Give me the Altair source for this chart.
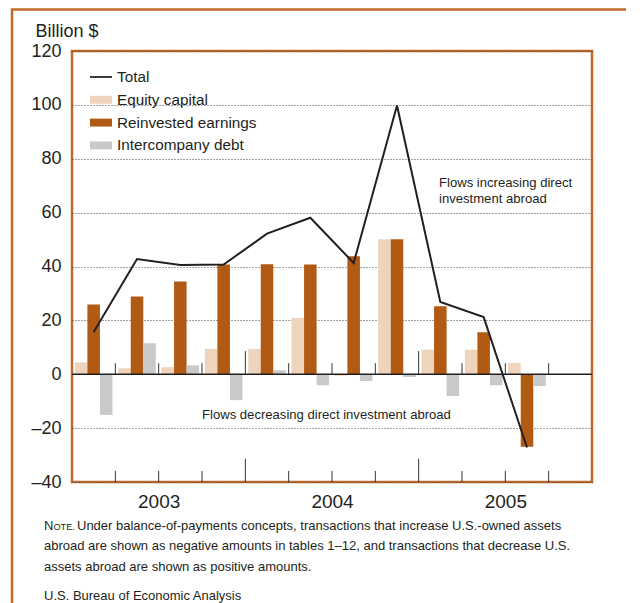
import altair as alt
import pandas as pd

# ---------------- data ----------------
quarters = ["2003Q1", "2003Q2", "2003Q3", "2003Q4",
            "2004Q1", "2004Q2", "2004Q3", "2004Q4",
            "2005Q1", "2005Q2", "2005Q3", "2005Q4"]
data_quarters = quarters[:11]
equity_capital = [4.4, 2.2, 2.6, 9.4, 9.4, 20.9, -0.6, 50.1, 9.1, 9.1, 4.2]
reinvested_earnings = [25.9, 28.9, 34.4, 40.7, 40.8, 40.7, 43.8, 50.1, 25.2, 15.6, -26.9]
intercompany_debt = [-15.1, 11.5, 3.3, -9.6, 1.5, -4.1, -2.5, -1.0, -8.1, -4.1, -4.4]
total = [15.7, 42.8, 40.6, 40.7, 52.2, 58.1, 41.3, 99.8, 26.8, 21.2, -27.2]

series_names = ["Total", "Equity capital", "Reinvested earnings", "Intercompany debt"]
bar_series = series_names[1:]
series_colors = ["#231f20", "#eed3bd", "#b15a13", "#c8c9cb"]
y_ticks = [-40, -20, 0, 20, 40, 60, 80, 100, 120]

note_head_cap = "N"
note_head_small = "OTE."
note_line1 = "Under balance-of-payments concepts, transactions that increase U.S.-owned assets"
note_rest = ("abroad are shown as negative amounts in tables 1\u201312, and transactions that decrease U.S.\n"
             "assets abroad are shown as positive amounts.")
source_text = "U.S. Bureau of Economic Analysis"
flows_up_text = "Flows increasing direct\ninvestment abroad"
flows_down_text = "Flows decreasing direct investment abroad"

# ---------------- tables ----------------
rows = []
for i, q in enumerate(data_quarters):
    rows.append({"quarter": q, "series": "Equity capital", "value": equity_capital[i]})
    rows.append({"quarter": q, "series": "Reinvested earnings", "value": reinvested_earnings[i]})
    rows.append({"quarter": q, "series": "Intercompany debt", "value": intercompany_debt[i]})
bars_df = pd.DataFrame(rows)
line_df = pd.DataFrame({"quarter": data_quarters, "series": "Total", "value": total})
bounds_df = pd.DataFrame({"quarter": quarters[1:],
                          "year_start": [q.endswith("Q1") for q in quarters[1:]]})
minor_df = bounds_df[~bounds_df["year_start"]]
major_df = bounds_df[bounds_df["year_start"]]
one = pd.DataFrame({"k": [0]})

FONT = "Liberation Sans, Arial, Helvetica, sans-serif"
ORANGE = "#c0692a"
INK = "#231f20"

W, H = 520, 431

x_scale = alt.Scale(domain=quarters, paddingInner=0, paddingOuter=0)
y_scale = alt.Scale(domain=[-40, 120], nice=False)
color_scale = alt.Scale(domain=series_names, range=series_colors)

rect_path = "M-1,-0.36L1,-0.36L1,0.36L-1,0.36Z"
line_path = "M-1,-0.08L1,-0.08L1,0.08L-1,0.08Z"
legend = alt.Legend(
    title=None, orient="none", legendX=18, legendY=15, padding=0,
    symbolSize=484,
    symbolType=alt.expr(f"datum.value === 'Total' ? '{line_path}' : '{rect_path}'"),
    symbolStrokeWidth=0,
    labelFont=FONT, labelFontSize=15.3, labelColor=INK, labelOffset=5,
    rowPadding=2.8, labelLimit=300,
)

x_axis = alt.Axis(title=None, bandPosition=0, ticks=False, domain=False, grid=False,
                  labelAngle=0, labelFont=FONT, labelFontSize=19, labelColor=INK,
                  labelBaseline="middle", labelPadding=19,
                  labelExpr="indexof(datum.value, 'Q3') >= 0 ? slice(datum.value, 0, 4) : ''")
y_axis = alt.Axis(values=y_ticks, title="Billion $", titleAngle=0, titleX=-37, titleY=-15,
                  titleAlign="left", titleBaseline="alphabetic", titleFont=FONT,
                  titleFontSize=18, titleFontWeight="normal", titleColor=INK,
                  ticks=False, domain=False, labelFont=FONT, labelFontSize=18,
                  labelColor=INK, labelPadding=11, labelBaseline="middle",
                  labelExpr="datum.value < 0 ? '\u2013' + abs(datum.value) : datum.label",
                  grid=True, gridColor="#444444", gridDash=[1, 2], gridWidth=1)

bars = alt.Chart(bars_df).mark_bar(strokeWidth=0).encode(
    x=alt.X("quarter:O", scale=x_scale, axis=x_axis),
    xOffset=alt.XOffset("series:N", sort=bar_series,
                        scale=alt.Scale(domain=bar_series, paddingInner=0, paddingOuter=0.23)),
    y=alt.Y("value:Q", scale=y_scale, axis=y_axis),
    color=alt.Color("series:N", scale=color_scale, legend=legend),
)

line = alt.Chart(line_df).mark_line(strokeWidth=2, color=INK).encode(
    x=alt.X("quarter:O", scale=x_scale),
    y=alt.Y("value:Q", scale=y_scale),
    color=alt.Color("series:N", scale=color_scale, legend=legend),
)

def ticks(df, base, length):
    return alt.Chart(df).mark_rule(color="#333333", strokeWidth=1).encode(
        x=alt.X("quarter:O", scale=x_scale, bandPosition=0),
        y=alt.Y(datum=base, scale=y_scale),
        y2=alt.Y2(datum=base + length),
    )

tick_layers = [ticks(minor_df, 0, 4.1), ticks(major_df, 0, 8.6),
               ticks(minor_df, -40, 4.1), ticks(major_df, -40, 8.6)]

zero = alt.Chart(one).mark_rule(color=INK, strokeWidth=1.5).encode(
    y=alt.Y(datum=0, scale=y_scale))

def label(text, x, y, size, line_height=None, baseline="middle"):
    kw = dict(align="left", baseline=baseline, font=FONT, fontSize=size, color=INK,
              lineBreak="\n")
    if line_height:
        kw["lineHeight"] = line_height
    return alt.Chart(one).mark_text(**kw).encode(
        x=alt.value(x), y=alt.value(y), text=alt.value(text))

texts = [
    label(flows_up_text, 367, 132, 13.1, line_height=15.5),
    label(flows_down_text, 130, 364, 13.1),
    label(note_head_cap, -28, 478.5, 13, baseline="alphabetic"),
    label(note_head_small, -18.6, 478.5, 9.2, baseline="alphabetic"),
    label(note_line1, 5, 478.5, 13, baseline="alphabetic"),
    label(note_rest, -28, 499, 13, line_height=20.5, baseline="alphabetic"),
    label(source_text, -28, 548.5, 13, baseline="alphabetic"),
]

frame = alt.Chart(one).mark_rect(fillOpacity=0, stroke=ORANGE, strokeWidth=2.5).encode(
    x=alt.value(-60), x2=alt.value(700), y=alt.value(-41.5), y2=alt.value(800))

chart = alt.layer(*tick_layers, bars, zero, line, *texts, frame).properties(
    width=W, height=H,
    autosize=alt.AutoSizeParams(type="none"),
    padding={"left": 64, "top": 43, "right": 34, "bottom": 121},
    background="white",
).configure_view(stroke=ORANGE, strokeWidth=2.5)

chart.save("out.html", embed_options={"renderer": "svg", "actions": False})
